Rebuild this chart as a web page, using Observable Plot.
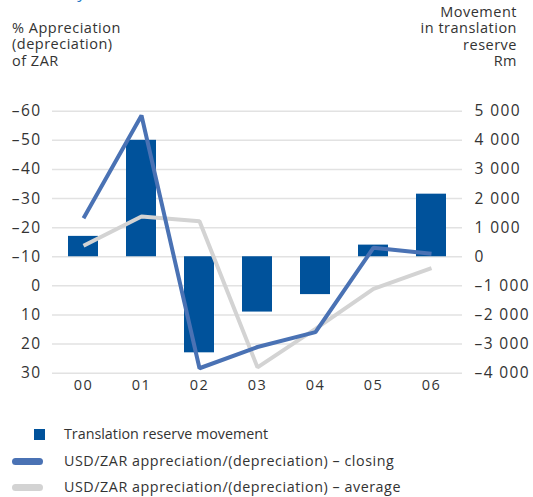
<!DOCTYPE html>
<html>
<head>
<meta charset="utf-8">
<script src="https://cdn.jsdelivr.net/npm/d3@7"></script>
<script src="https://cdn.jsdelivr.net/npm/@observablehq/plot@0.6"></script>
<style>
  html, body { margin: 0; padding: 0; background: #fff; }
  body { width: 533px; height: 497px; overflow: hidden; position: relative; font-family: "Open Sans", "Noto Sans", sans-serif; color: #333; }
  #title { position: absolute; left: 14px; top: -20px; font-size: 17px; color: #2a7ac8; white-space: nowrap; }
  .ytitle { position: absolute; font-size: 14.5px; line-height: 16.3px; color: #333; letter-spacing: 0.5px; white-space: nowrap; }
  #ltitle { left: 12px; top: 20px; }
  #rtitle { right: 16px; top: 4px; text-align: right; }
  #chart { position: absolute; left: 0; top: 0; }
  #legend { position: absolute; left: 0; top: 424px; font-size: 14.3px; color: #333; }
  .item { position: relative; height: 26.5px; line-height: 20px; padding-left: 64px; white-space: nowrap; }
  .sw { position: absolute; }
</style>
</head>
<body>
<div id="title">Currency translation reserves</div>
<div class="ytitle" id="ltitle">% Appreciation<br>(depreciation)<br>of ZAR</div>
<div class="ytitle" id="rtitle">Movement<br>in translation<br>reserve<br>Rm</div>
<div id="chart"></div>
<div id="legend"></div>
<script>
const years = ["00", "01", "02", "03", "04", "05", "06"];
const reserveRm = [700, 4000, -3300, -1900, -1300, 400, 2150];
const closingPct = [-23.2, -58.5, 28.3, 21, 15.9, -13.1, -11.0];
const averagePct = [-13.8, -23.8, -22.2, 28, 14.8, 1.0, -6.1];
const rmTicks = [-4000, -3000, -2000, -1000, 0, 1000, 2000, 3000, 4000, 5000];
const seriesNames = ["Translation reserve movement", "USD/ZAR appreciation/(depreciation) – closing", "USD/ZAR appreciation/(depreciation) – average"];
const colors = ["#00529b", "#4a72b4", "#d3d3d3"];

// the two y axes are linked: % value p corresponds to -100*p - 1000 Rm
const pctToRm = p => -100 * p - 1000;
const rmToPct = r => -(r + 1000) / 100;

const bars = years.map((y, i) => ({year: y, value: reserveRm[i]}));
const closing = years.map((y, i) => ({year: y, value: closingPct[i]}));
const average = years.map((y, i) => ({year: y, value: averagePct[i]}));

const fmtRm = v => (v < 0 ? "–" : "") + d3.format(",")(Math.abs(v)).replace(/,/g, " ");
const fmtPct = v => { const p = Math.round(rmToPct(v)); return (p < 0 ? "–" : "") + Math.abs(p); };

const plot = Plot.plot({
  width: 533,
  height: 400,
  marginTop: 110.7,
  marginBottom: 27.3,
  marginLeft: 52,
  marginRight: 71,
  style: {fontFamily: "'Open Sans', 'Noto Sans', sans-serif", fontSize: "15px", color: "#333", background: "transparent", letterSpacing: "1.4px", overflow: "visible"},
  x: {type: "band", domain: years, paddingInner: 0.49, paddingOuter: 0.245, label: null},
  y: {domain: [-4000, 5000], label: null},
  marks: [
    Plot.ruleY(rmTicks, {stroke: "#e2e2e2", strokeWidth: 1.5}),
    Plot.barY(bars, {x: "year", y: "value", fill: colors[0]}),
    Plot.line(average, {x: "year", y: d => pctToRm(d.value), stroke: colors[2], strokeWidth: 4, strokeLinecap: "butt", strokeLinejoin: "miter"}),
    Plot.line(closing, {x: "year", y: d => pctToRm(d.value), stroke: colors[1], strokeWidth: 4, strokeLinecap: "butt", strokeLinejoin: "miter"}),
    Plot.axisY(rmTicks, {anchor: "left", tickSize: 0, tickPadding: 11, tickFormat: fmtPct, label: null, fontSize: 15.5}),
    Plot.axisY(rmTicks, {anchor: "right", tickSize: 0, tickPadding: 12, tickFormat: fmtRm, label: null, fontSize: 15.5}),
    Plot.axisX({tickSize: 0, tickPadding: 7, label: null, fontSize: 14.5})
  ]
});
document.getElementById("chart").appendChild(plot);

const legend = document.getElementById("legend");
seriesNames.forEach((name, i) => {
  const item = document.createElement("div");
  item.className = "item";
  if (i > 0) item.style.letterSpacing = "0.55px";
  const sw = document.createElement("span");
  sw.className = "sw";
  if (i === 0) {
    Object.assign(sw.style, {left: "34px", top: "5px", width: "11px", height: "11px", background: colors[0]});
  } else {
    Object.assign(sw.style, {left: "12px", top: "7px", width: "31px", height: "7px", borderRadius: "4px", background: colors[i]});
  }
  item.appendChild(sw);
  item.appendChild(document.createTextNode(name));
  legend.appendChild(item);
});
</script>
</body>
</html>
